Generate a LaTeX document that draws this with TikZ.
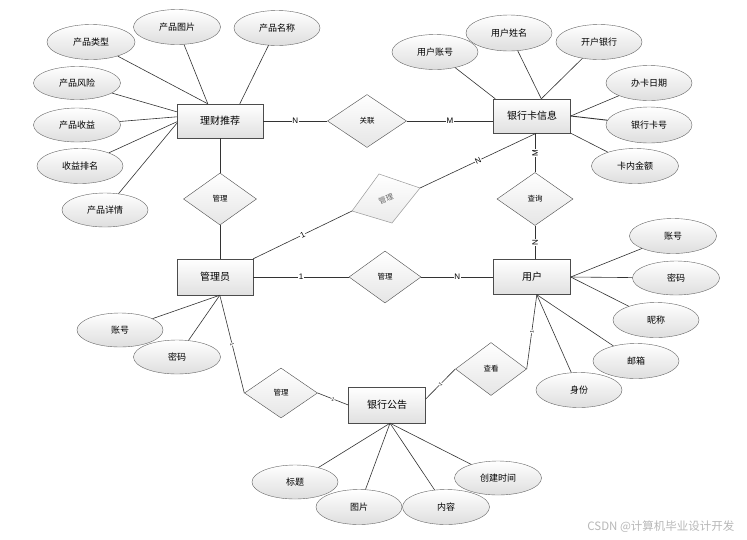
\documentclass[tikz,border=0pt]{standalone}
\usepackage{fontspec}
\newfontfamily\cjk{Noto Sans CJK SC}
\newfontfamily\lab{Liberation Sans}
\usetikzlibrary{shapes.geometric,calc}
\begin{document}
\begin{tikzpicture}[x=1pt,y=-1pt,
  attr/.style={ellipse,draw=black!60,top color=white,bottom color=black!13,minimum width=86pt,minimum height=35pt,inner sep=0pt,font=\cjk\fontsize{9}{9}\selectfont},
  ent/.style={rectangle,draw=black!70,top color=white,bottom color=black!12,minimum width=77pt,minimum height=35pt,inner sep=0pt,font=\cjk\fontsize{10}{10}\selectfont},
  rel/.style={diamond,draw=black!70,top color=white,bottom color=black!10,minimum width=73pt,minimum height=52pt,inner sep=0pt,font=\cjk\fontsize{7.5}{7.5}\selectfont},
  conn/.style={draw=black!80,line width=0.6pt},
  card/.style={fill=white,inner sep=0.6pt,font=\lab\fontsize{8}{8}\selectfont},
  tick/.style={fill=white,inner sep=0.2pt,font=\lab\fontsize{5}{5}\selectfont},
]
\useasboundingbox (0,0) rectangle (747,539);
\fill[white] (0,0) rectangle (747,539);

% entities
\node[ent,minimum width=86pt,minimum height=34pt] (lc) at (220,121) {理财推荐};
\node[ent,minimum height=34pt] (yhk) at (532,116) {银行卡信息};
\node[ent,minimum width=76pt,minimum height=36pt] (gly) at (215,277) {管理员};
\node[ent] (yh) at (532,277) {用户};
\node[ent,minimum height=36pt] (gg) at (387,405) {银行公告};

% relations
\node[rel] (r1) at (220,199) {管理};
\node[rel,minimum width=79pt,minimum height=53pt] (gl) at (367,121) {关联};
\node[rel,minimum width=76pt,minimum height=53pt] (cx) at (535,199) {查询};
\node[rel,minimum width=72pt] (r2) at (385,277) {管理};
\node[rel,minimum height=50pt] (r3) at (281,393) {管理};
\node[rel,minimum width=71pt,minimum height=53pt] (ck) at (491,369) {查看};

% gray rotated relation
\coordinate (gT) at (379,174);
\coordinate (gR) at (420,188);
\coordinate (gB) at (392,223);
\coordinate (gL) at (352,211);
\shadedraw[draw=black!40,top color=white,bottom color=black!8,line width=0.5pt] (gT) -- (gR) -- (gB) -- (gL) -- cycle;
\node[rotate=22,text=black!60,inner sep=0pt,font=\cjk\fontsize{7.5}{7.5}\selectfont] (gd) at (386,199) {管理};

% attributes of 理财推荐
\node[attr,minimum width=88pt] (a1) at (91,42) {产品类型};
\node[attr,minimum width=87pt] (a2) at (177,27) {产品图片};
\node[attr] (a3) at (277,28) {产品名称};
\node[attr,minimum width=87pt,minimum height=33pt] (a4) at (77,83) {产品风险};
\node[attr,minimum width=87pt,minimum height=34pt] (a5) at (77,125) {产品收益};
\node[attr] (a6) at (80,166) {收益排名};
\node[attr,minimum height=34pt] (a7) at (105,210) {产品详情};

% attributes of 银行卡信息
\node[attr] (b1) at (435,52) {用户账号};
\node[attr,minimum height=36pt] (b2) at (509,33) {用户姓名};
\node[attr] (b3) at (599,42) {开户银行};
\node[attr] (b4) at (649,83) {办卡日期};
\node[attr,minimum height=36pt] (b5) at (649,125) {银行卡号};
\node[attr,minimum width=87pt] (b6) at (635,166) {卡内金额};

% attributes of 管理员
\node[attr,minimum height=34pt] (c1) at (120,330) {账号};
\node[attr,minimum width=87pt,minimum height=34pt] (c2) at (177,357) {密码};

% attributes of 用户
\node[attr,minimum width=87pt] (d1) at (673,236) {账号};
\node[attr,minimum width=87pt,minimum height=34pt] (d2) at (676,278) {密码};
\node[attr] (d3) at (656,320) {昵称};
\node[attr] (d4) at (636,361) {邮箱};
\node[attr] (d5) at (579,390) {身份};

% attributes of 银行公告
\node[attr,minimum height=34pt] (e1) at (295,482) {标题};
\node[attr] (e2) at (359,507) {图片};
\node[attr,minimum width=87pt] (e3) at (446,507) {内容};
\node[attr,minimum width=87pt,minimum height=34pt] (e4) at (498,478) {创建时间};

% anchor points on entities
\coordinate (lcT1) at ($(lc.north west)+(31,0)$);
\coordinate (lcT2) at ($(lc.north west)+(63,0)$);
\coordinate (lcL1) at ($(lc.north west)+(0,8)$);
\coordinate (lcL2) at ($(lc.north west)+(0,13)$);
\coordinate (lcL3) at ($(lc.north west)+(0,18)$);
\coordinate (lcL4) at ($(lc.north west)+(0,19.5)$);
\coordinate (yhkT1) at ($(yhk.north west)+(2,0)$);
\coordinate (yhkT2) at ($(yhk.north west)+(48,0)$);
\coordinate (yhkB) at ($(yhk.south west)+(43,0)$);
\coordinate (glyB) at ($(gly.south west)+(43,0)$);
\coordinate (yhB) at ($(yh.south west)+(43.5,0)$);
\coordinate (ggB) at ($(gg.south)+(3,0)$);
\coordinate (ggR) at ($(gg.east)+(0,-6)$);

% connectors: 理财推荐
\draw[conn] (a1) -- (lcT1);
\draw[conn] (a2) -- (lcT1);
\draw[conn] (a3) -- (lcT2);
\draw[conn] (a4) -- (lcL1);
\draw[conn] (a5) -- (lcL2);
\draw[conn] (a6) -- (lcL3);
\draw[conn] (a7) -- (lcL4);

% connectors: 银行卡信息
\draw[conn] (b1) -- (yhkT1);
\draw[conn] (b2) -- (yhkT2);
\draw[conn] (b3) -- (yhkT2);
\draw[conn] (b4) -- (yhk.east);
\draw[conn,line width=0.9pt] (b5) -- (yhk.east);
\draw[conn] (b6) -- (yhk.south east);

% connectors: 管理员
\draw[conn] (c1) -- (glyB);
\draw[conn] (c2) -- (glyB);

% connectors: 用户
\draw[conn] (d1) -- (yh.east);
\draw[conn] (d2) -- (yh.east);
\draw[conn] (d3) -- (yh.east);
\draw[conn] (d4) -- (yhB);
\draw[conn] (d5) -- (yhB);

% connectors: 银行公告
\draw[conn] (e1) -- (ggB);
\draw[conn] (e2) -- (ggB);
\draw[conn] (e3) -- (ggB);
\draw[conn] (e4) -- (ggB);

% relationship connectors
\draw[conn] (lc) -- node[card]{N} (gl);
\draw[conn] (gl.east) -- node[card]{M} (gl.east -| yhk.west);
\draw[conn] (lc) -- (r1);
\draw[conn] (r1.south) -- (r1.south |- gly.north);
\draw[conn] (cx.north) -- node[card,rotate=90]{M} (cx.north |- yhk.south);
\draw[conn] (cx.south) -- node[card,rotate=90]{N} (cx.south |- yh.north);
\draw[conn] (gly.east) -- node[card]{1} (r2.west);
\draw[conn] (r2.east) -- node[card]{N} (yh.west);
\draw[conn] (gly.north east) -- node[card,rotate=26]{1} (gL);
\draw[conn] (gR) -- node[card,rotate=25]{N} (yhkB);
\draw[conn] (glyB) -- node[tick,pos=0.5,rotate=-76]{1} (r3.west);
\draw[conn] (r3.east) -- node[tick,rotate=-24]{1} (gg.west);
\draw[conn] (ggR) -- node[tick,rotate=44]{1} (ck.west);
\draw[conn] (ck.east) -- node[tick,rotate=82]{1} (yhB);

% watermark
\node[font=\cjk\fontsize{11.5}{11.5}\selectfont,text=black!28,anchor=east] (wm) at (738,527) {CSDN @计算机毕业设计开发};
\end{tikzpicture}
\end{document}
